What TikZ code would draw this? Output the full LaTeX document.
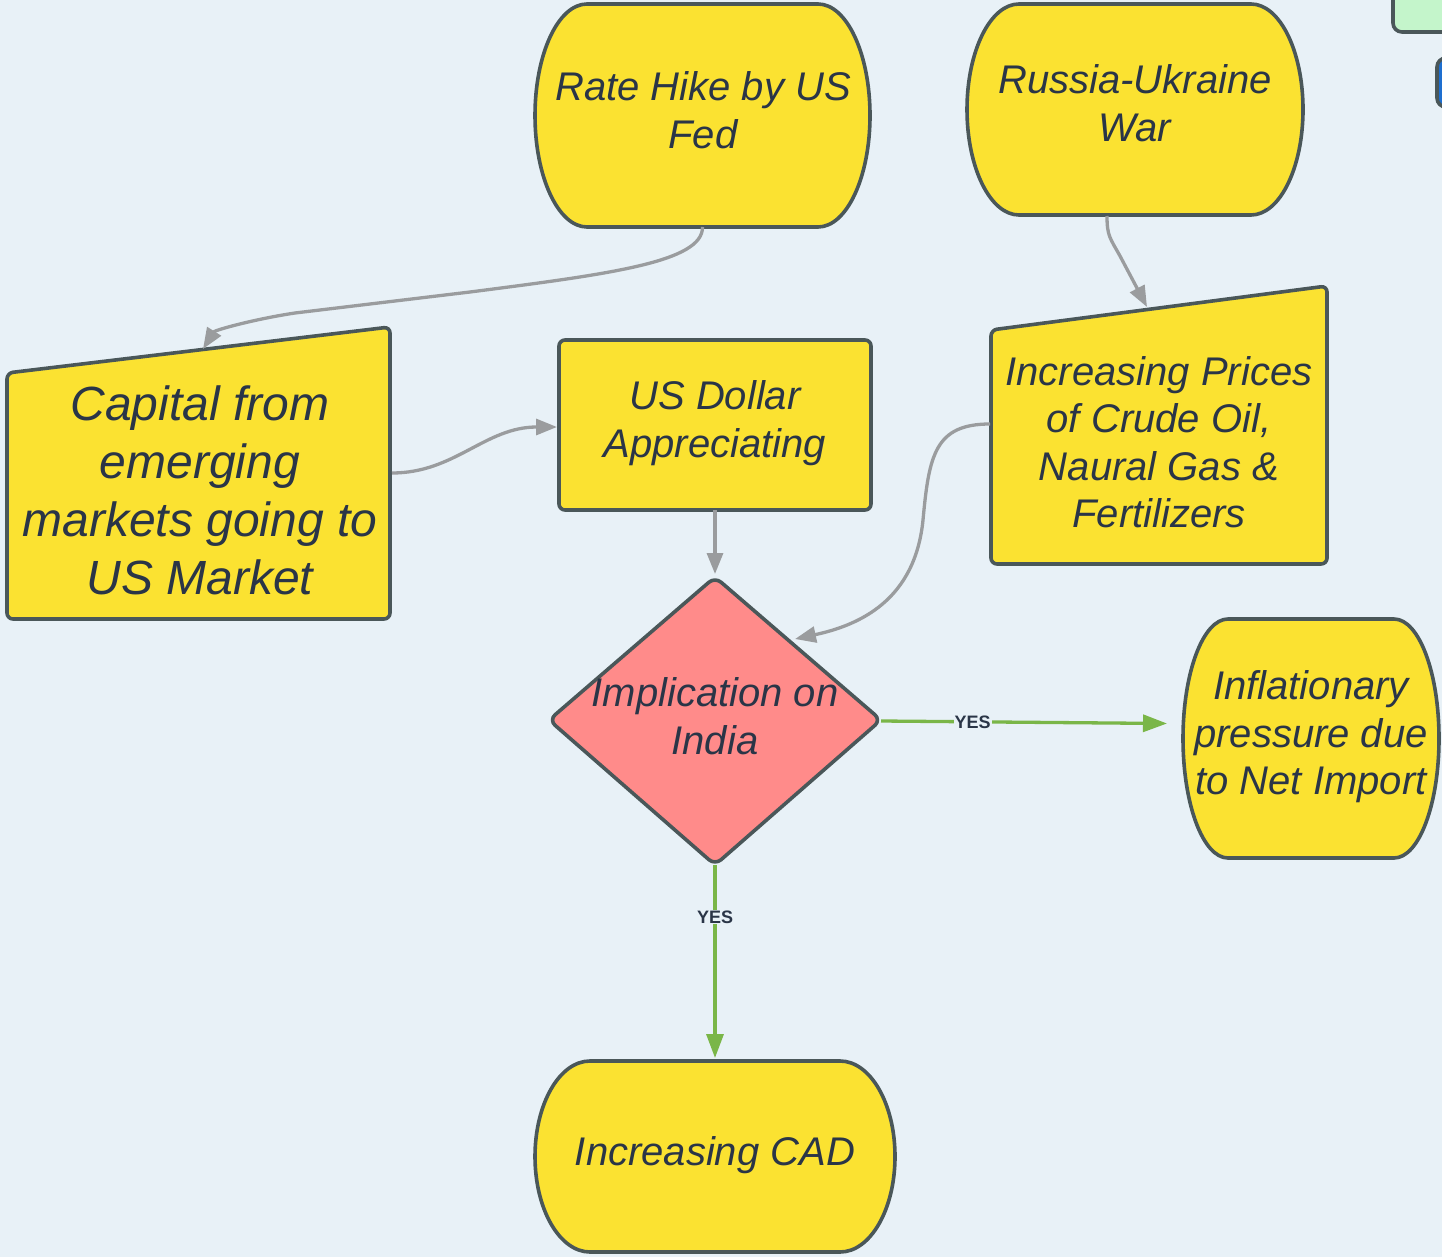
\documentclass[tikz,border=0pt]{standalone}
\usepackage{fontspec}
\setmainfont{Liberation Sans}
\usetikzlibrary{arrows.meta,calc}
\definecolor{bg}{HTML}{E8F1F7}
\definecolor{yel}{HTML}{FBE231}
\definecolor{pinkd}{HTML}{FF8B8A}
\definecolor{edge}{HTML}{4A5759}
\definecolor{txt}{HTML}{2A3547}
\definecolor{greyc}{HTML}{9A9C9E}
\definecolor{grn}{HTML}{7AB648}
\definecolor{lgreen}{HTML}{C4F5CB}
\definecolor{blu}{HTML}{1E6FD0}
\tikzset{
  shapebox/.style={draw=edge,line width=3.6pt,fill=yel,line join=round},
  boundsbox/.style={rectangle,draw=none,inner sep=0pt,outer sep=0pt},
  lbl/.style={text=txt,align=center,font=\fontsize{40}{47.5}\selectfont\itshape},
  biglbl/.style={text=txt,align=center,font=\fontsize{48}{58}\selectfont\itshape},
  greyarrow/.style={draw=greyc,line width=3.3pt,-{Triangle[length=21pt,width=16pt]}},
  greenarrow/.style={draw=grn,line width=3.3pt,-{Triangle[length=24pt,width=17pt]}},
  yeslbl/.style={text=txt,fill=bg,inner sep=1pt,font=\fontsize{18}{18}\selectfont\bfseries}
}
\newcommand{\termpath}[5]{% x0 y0 x1 y1 rx
  \path[shapebox] ({#1+#5},#2) -- ({#3-#5},#2)
    arc[start angle=-90,end angle=90,x radius=#5,y radius={(#4-#2)/2}]
    -- ({#1+#5},#4)
    arc[start angle=90,end angle=270,x radius=#5,y radius={(#4-#2)/2}] -- cycle;}
\begin{document}
\begin{tikzpicture}[x=1pt,y=-1pt]
\useasboundingbox (0,0) rectangle (1442,1257);
\clip (0,0) rectangle (1442,1257);
\fill[bg] (0,0) rectangle (1442,1257);

% partial shapes at the top right
\path[draw=edge,line width=3.6pt,fill=lgreen,rounded corners=9pt] (1393,-30) rectangle (1480,32);
\path[draw=edge,line width=3.6pt,fill=blu,rounded corners=9pt] (1437,58) rectangle (1480,107);

% Rate hike
\termpath{535}{4}{870}{227}{52}
\node[boundsbox,minimum width=335pt,minimum height=223pt] (rate) at (702.5,115.5) {};
\node[lbl] (ratet) at (703,110) {Rate Hike by US\\Fed};

% Russia-Ukraine
\termpath{967}{4}{1303}{215}{52}
\node[boundsbox,minimum width=336pt,minimum height=211pt] (war) at (1135,109.5) {};
\node[lbl] (wart) at (1135,103) {Russia-Ukraine\\War};

% Capital
\path[shapebox,rounded corners=6pt] (7,373) -- (390,327) -- (390,619) -- (7,619) -- cycle;
\node[boundsbox,minimum width=383pt,minimum height=292pt] (cap) at (198.5,473) {};
\node[biglbl] (capt) at (200,490) {Capital from\\emerging\\markets going to\\US Market};

% US Dollar
\path[shapebox,rounded corners=6pt] (559,340) rectangle (871,510);
\node[boundsbox,minimum width=312pt,minimum height=170pt] (usd) at (715,425) {};
\node[lbl] (usdt) at (715,423) {US Dollar\\Appreciating};

% Crude
\path[shapebox,rounded corners=6pt] (991,330) -- (1327,286) -- (1327,564) -- (991,564) -- cycle;
\node[boundsbox,minimum width=336pt,minimum height=278pt] (crude) at (1159,425) {};
\node[lbl] (crudet) at (1159,442) {Increasing Prices\\of Crude Oil,\\Naural Gas \&\\Fertilizers};

% Diamond
\path[draw=edge,line width=3.6pt,fill=pinkd,rounded corners=8pt,line join=round]
  (715,577) -- (881,720) -- (715,865) -- (549,720) -- cycle;
\node[boundsbox,minimum width=332pt,minimum height=288pt] (dia) at (715,721) {};
\node[lbl] (diat) at (715,716) {Implication on\\India};

% Inflationary
\termpath{1183}{619}{1439}{858}{45}
\node[boundsbox,minimum width=256pt,minimum height=239pt] (infl) at (1311,738.5) {};
\node[lbl] (inflt) at (1311,737) {Inflationary\\pressure due\\to Net Import};

% Increasing CAD
\termpath{535}{1061}{895}{1252}{55}
\node[boundsbox,minimum width=360pt,minimum height=191pt] (cad) at (715,1156.5) {};
\node[lbl] (cadt) at (715,1155) {Increasing CAD};

% connector end points
\coordinate (capin) at (203,349);
\coordinate (capout) at ($(cap.east)+(2,0)$);
\coordinate (usdin) at (557,427);
\coordinate (warout) at (1107,216);
\coordinate (crudein) at (1147,307);
\coordinate (crudeout) at (990,424);
\coordinate (diain) at (795,639);

% grey connectors
\draw[greyarrow] (rate.south) .. controls (703,262) and (610,274) .. (470,292)
  -- (295,313) .. controls (255,319) and (215,330) .. (capin);
\draw[greyarrow] (capout) .. controls (455,473) and (485,427) .. (usdin);
\draw[greyarrow] (usd.south) -- ($(dia.north)+(0,-3)$);
\draw[greyarrow] (warout) .. controls (1107,236) and (1110,238) .. (1120,256) -- (crudein);
\draw[greyarrow] (crudeout) .. controls (935,424) and (929,455) .. (923,520)
  .. controls (915,600) and (860,625) .. (diain);

% green connectors
\draw[greenarrow] (dia.east) -- ($(infl.west)+(-16,-15)$)
  node[yeslbl,pos=0.32] (yes1) {YES};
\draw[greenarrow] (dia.south) -- ($(cad.north)+(0,-3)$)
  node[yeslbl,pos=0.27] (yes2) {YES};
\end{tikzpicture}
\end{document}
